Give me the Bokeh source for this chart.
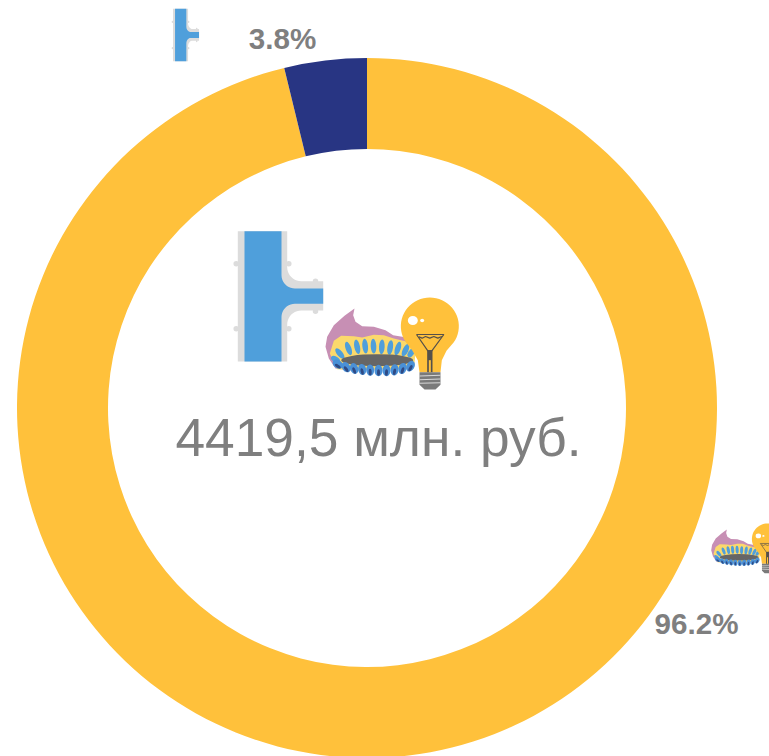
import math
from bokeh.plotting import figure
from bokeh.models import Range1d
from bokeh.core.properties import value
from bokeh.embed import file_html
from bokeh.resources import INLINE

# --- data
categories = ["Водоснабжение", "Газ и электроэнергия"]
shares = [3.8, 96.2]
colors = ["#283583", "#FFC13B"]
total_label = "4419,5 млн. руб."
GREY = "#7F7F7F"

W, H = 769, 756
p = figure(width=W, height=H, output_backend="svg", toolbar_location=None,
           x_range=Range1d(0, 769), y_range=Range1d(0, 756), min_border=0,
           background_fill_color="white", border_fill_color="white", outline_line_color=None)
p.axis.visible = False
p.grid.visible = False

def Y(py):
    return 756 - py

# --- donut
CX, CY, R0, R1 = 366.5, Y(407.5), 259, 350
end = math.pi / 2
for name, share, col in zip(categories[::-1], shares[::-1], colors[::-1]):
    start = end
    end = start - share / sum(shares) * 2 * math.pi
    p.annular_wedge([CX], [CY], inner_radius=R0, outer_radius=R1, start_angle=end, end_angle=start,
                    fill_color=col, line_color=None)

# --- texts
p.text([378], [Y(436.5)], text=[total_label], text_font=value("Liberation Sans"), text_font_size="53.3px",
       text_color=GREY, text_align="center", text_baseline="middle")
for x, y, s in [(282, 38, shares[0]), (696, 623, shares[1])]:
    p.text([x], [Y(y)], text=[f"{s}%"], text_font=value("Liberation Sans"), text_font_style="bold",
           text_font_size="29.6px", text_color=GREY, text_align="center", text_baseline="middle")

# --- icons (decorative drawing, local coordinates)
def tee(ox, oy, sx, sy):
    X = lambda x: ox + x * sx
    YY = lambda y: Y(oy + y * sy)
    def poly(pts, col):
        p.patch([X(a) for a, b in pts], [YY(b) for a, b in pts], fill_color=col, line_color=None)
    def fillet(cx, cy, r, a0, a1):
        return [(cx + r * math.cos(math.radians(a0 + (a1 - a0) * i / 10)),
                 cy + r * math.sin(math.radians(a0 + (a1 - a0) * i / 10))) for i in range(11)]
    for bx, by in [(-1.6, 32.6), (-1.6, 97.6), (51, 32.6), (51, 97.6), (77.7, 50), (77.7, 80)]:
        p.ellipse([X(bx)], [YY(by)], width=5.5 * sx, height=5.5 * sy, fill_color="#DCDCDC", line_color=None)
    poly([(0, 0), (49.4, 0)] + fillet(63.4, 36, 14, 180, 90) + [(85.4, 50), (85.4, 79.3)] +
         fillet(63.4, 93.3, 14, 270, 180) + [(49.4, 130.3), (0, 130.3)], "#DCDCDC")
    poly([(6.7, 0), (43.7, 0)] + fillet(57, 44, 13.3, 180, 90) + [(85.4, 57.3), (85.4, 72.6)] +
         fillet(57, 85.9, 13.3, 270, 180) + [(43.7, 130.3), (6.7, 130.3)], "#4F9FDB")

def burner_lamp(ox, oy, s):
    X = lambda x: ox + (x - 315) / 3 * s
    YY = lambda y: Y(oy + (y - 232) / 3 * s)
    S = s / 3
    def poly(pts, col):
        p.patch([X(a) for a, b in pts], [YY(b) for a, b in pts], fill_color=col, line_color=None)
    def ell(x, y, w, h, col, a=0.0):
        p.ellipse([X(x)], [YY(y)], width=w * S, height=h * S, angle=a, fill_color=col, line_color=None)
    poly([(402, 265), (372, 287), (340, 315), (320, 350), (315, 380), (325, 415), (345, 445), (400, 452), (560, 440),
          (570, 355), (545, 350), (518, 345), (495, 330), (460, 320), (425, 318), (405, 305), (398, 285)], "#C78FB4")
    poly([(328, 400), (340, 362), (362, 347), (400, 348), (425, 352), (460, 344), (490, 345), (520, 355), (560, 365),
          (585, 400), (580, 445), (400, 450), (350, 447)], "#FBD96C")
    for x, y, a, h in [(345, 418, 1.0, 30), (358, 400, 0.7, 38), (384, 385, 0.35, 42), (410, 380, 0.2, 44),
                       (434, 378, 0.1, 44), (459, 378, 0.05, 44), (484, 380, -0.05, 44), (509, 382, -0.15, 44),
                       (532, 385, -0.3, 42), (555, 390, -0.45, 40), (572, 398, -0.6, 30)]:
        ell(x, y, 17, h, "#4F9FDB", a)
    ell(470, 420, 216, 36, "#666666")
    for x, y, a in [(352, 432, 1.0), (377, 441, 0.6), (401, 445, 0.35), (425, 448, 0.2), (449, 450, 0.05), (474, 451, 0.0),
                    (498, 451, -0.05), (522, 449, -0.15), (546, 445, -0.3), (570, 438, -0.5)]:
        ell(x, y, 24, 34, "#4A90D6", a)
        ell(x, y + 6, 9, 20, "#2F4A84", a)
    pts = []
    for i in range(41):
        a = math.radians(-215 + 250 * i / 40)
        pts.append((628 + 87 * math.cos(a), 318 + 86 * math.sin(a)))
    poly(pts + [(678, 392), (664, 420), (660, 456), (597, 456), (592, 420), (575, 390)], "#FFC13B")
    poly([(597, 456), (660, 456), (660, 494), (645, 508), (612, 508), (597, 494)], "#7A7A7A")
    for yy in (466, 477, 488):
        poly([(597, yy), (660, yy - 2), (660, yy + 1), (597, yy + 3)], "#D8D8D8")
    ell(577, 301, 30, 27, "white")
    ell(605, 301, 12, 10, "white")
    wire = dict(line_color="#55504A", line_width=max(0.5, 1.2 * s))
    p.line([X(v) for v in (588, 670, 634, 622, 588)], [YY(v) for v in (343, 343, 392, 392, 343)], **wire)
    p.line([X(v) for v in (595, 605, 615, 628, 640, 652, 664)],
           [YY(v) for v in (350, 354, 349, 354, 349, 354, 349)], **wire)
    poly([(620, 390), (636, 390), (636, 456), (620, 456)], "#55504A")
    poly([(625, 420), (631, 420), (631, 456), (625, 456)], "#FFC13B")

tee(237.3, 230.7, 1.0, 1.0)
tee(172.5, 8.3, 0.305, 0.403)
burner_lamp(325, 297, 1.0)
burner_lamp(710.7, 523, 0.54)

open("out.html", "w").write(file_html(p, INLINE))
